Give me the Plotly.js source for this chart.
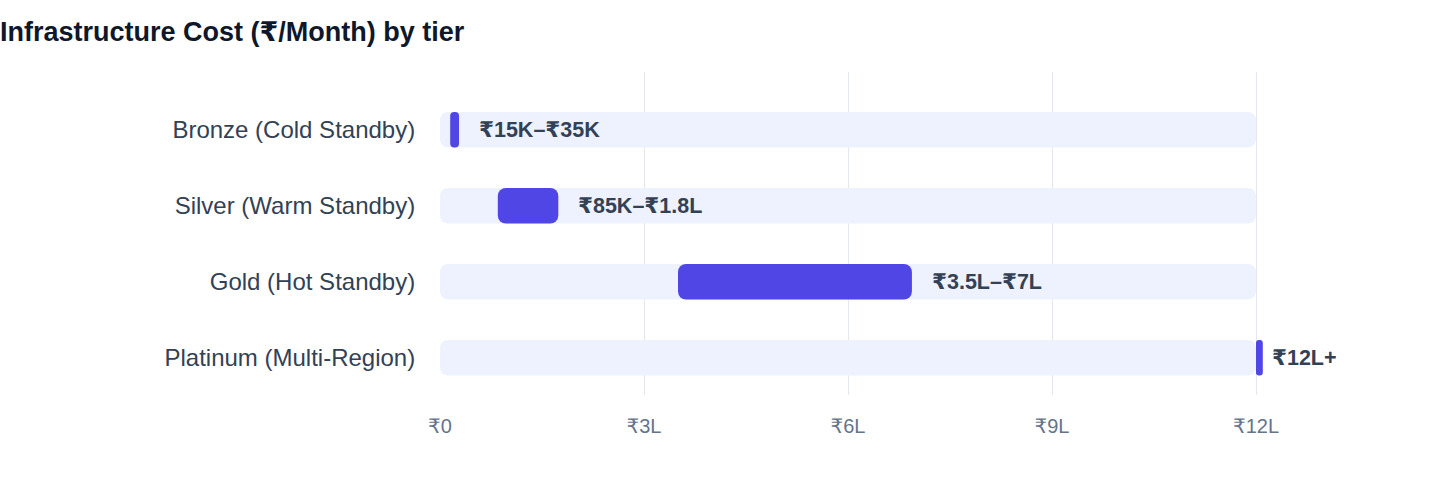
<!DOCTYPE html>
<html>
<head>
<meta charset="utf-8">
<script src="https://cdn.plot.ly/plotly-3.0.1.min.js"></script>
<style>
  html, body { margin: 0; padding: 0; background: #fff; }
  #chart { width: 1440px; height: 484px; }
</style>
</head>
<body>
<div id="chart"></div>
<script>
// tiers and their monthly cost range, in lakh rupees
const tiers = ["Bronze (Cold Standby)", "Silver (Warm Standby)", "Gold (Hot Standby)", "Platinum (Multi-Region)"];
const costLow = [0.15, 0.85, 3.5, 12];
const costHigh = [0.28, 1.74, 6.94, 12.1];
const trackMax = [12, 12, 12, 12];
const rangeLabels = ["₹15K–₹35K", "₹85K–₹1.8L", "₹3.5L–₹7L", "₹12L+"];
const tickVals = [0, 3, 6, 9, 12];
const tickText = ["₹0", "₹3L", "₹6L", "₹9L", "₹12L"];

const font = "'Liberation Sans', Arial, 'DejaVu Sans', sans-serif";

const track = {
    type: "bar",
    orientation: "h",
    y: tiers,
    x: trackMax,
    base: 0,
    width: 0.47,
    marker: { color: "#eef2ff" },
    hoverinfo: "skip",
};

const costRange = {
    type: "bar",
    orientation: "h",
    y: tiers,
    x: costHigh.map((h, i) => h - costLow[i]),
    base: costLow,
    width: 0.47,
    marker: { color: "#4f46e5" },
    hovertext: rangeLabels,
    hoverinfo: "text",
};

const annotations = rangeLabels.map((txt, i) => ({
    x: costHigh[i],
    y: tiers[i],
    text: txt,
    showarrow: false,
    xanchor: "left",
    xshift: i === tiers.length - 1 ? 7 : 18,
    font: { family: font, size: 21.5, color: "#334155", weight: 700 },
}));

const layout = {
    width: 1440,
    height: 484,
    margin: { l: 440, r: 82, t: 72, b: 89 },
    paper_bgcolor: "#fff",
    plot_bgcolor: "#fff",
    showlegend: false,
    barmode: "overlay",
    barcornerradius: 8,
    title: {
        text: "<b>Infrastructure Cost (₹/Month) by tier</b>",
        xref: "container",
        x: 0,
        xanchor: "left",
        y: 0.935,
        yanchor: "middle",
        font: { family: font, size: 27, color: "#0f172a" },
    },
    xaxis: {
        range: [0, 13.5],
        tickvals: tickVals,
        ticktext: tickText,
        showgrid: true,
        gridcolor: "#e2e8f0",
        gridwidth: 1,
        zeroline: false,
        showline: false,
        ticks: "outside",
        ticklen: 13,
        tickcolor: "rgba(0,0,0,0)",
        tickfont: { family: font, size: 20, color: "#64748b" },
    },
    yaxis: {
        type: "category",
        range: [3.49, -0.76],
        showgrid: false,
        zeroline: false,
        showline: false,
        ticks: "outside",
        ticklen: 19,
        tickcolor: "rgba(0,0,0,0)",
        tickfont: { family: font, size: 24, color: "#334155" },
    },
    annotations: annotations,
};

Plotly.newPlot("chart", [track, costRange], layout, { displayModeBar: false, staticPlot: true });
</script>
</body>
</html>
